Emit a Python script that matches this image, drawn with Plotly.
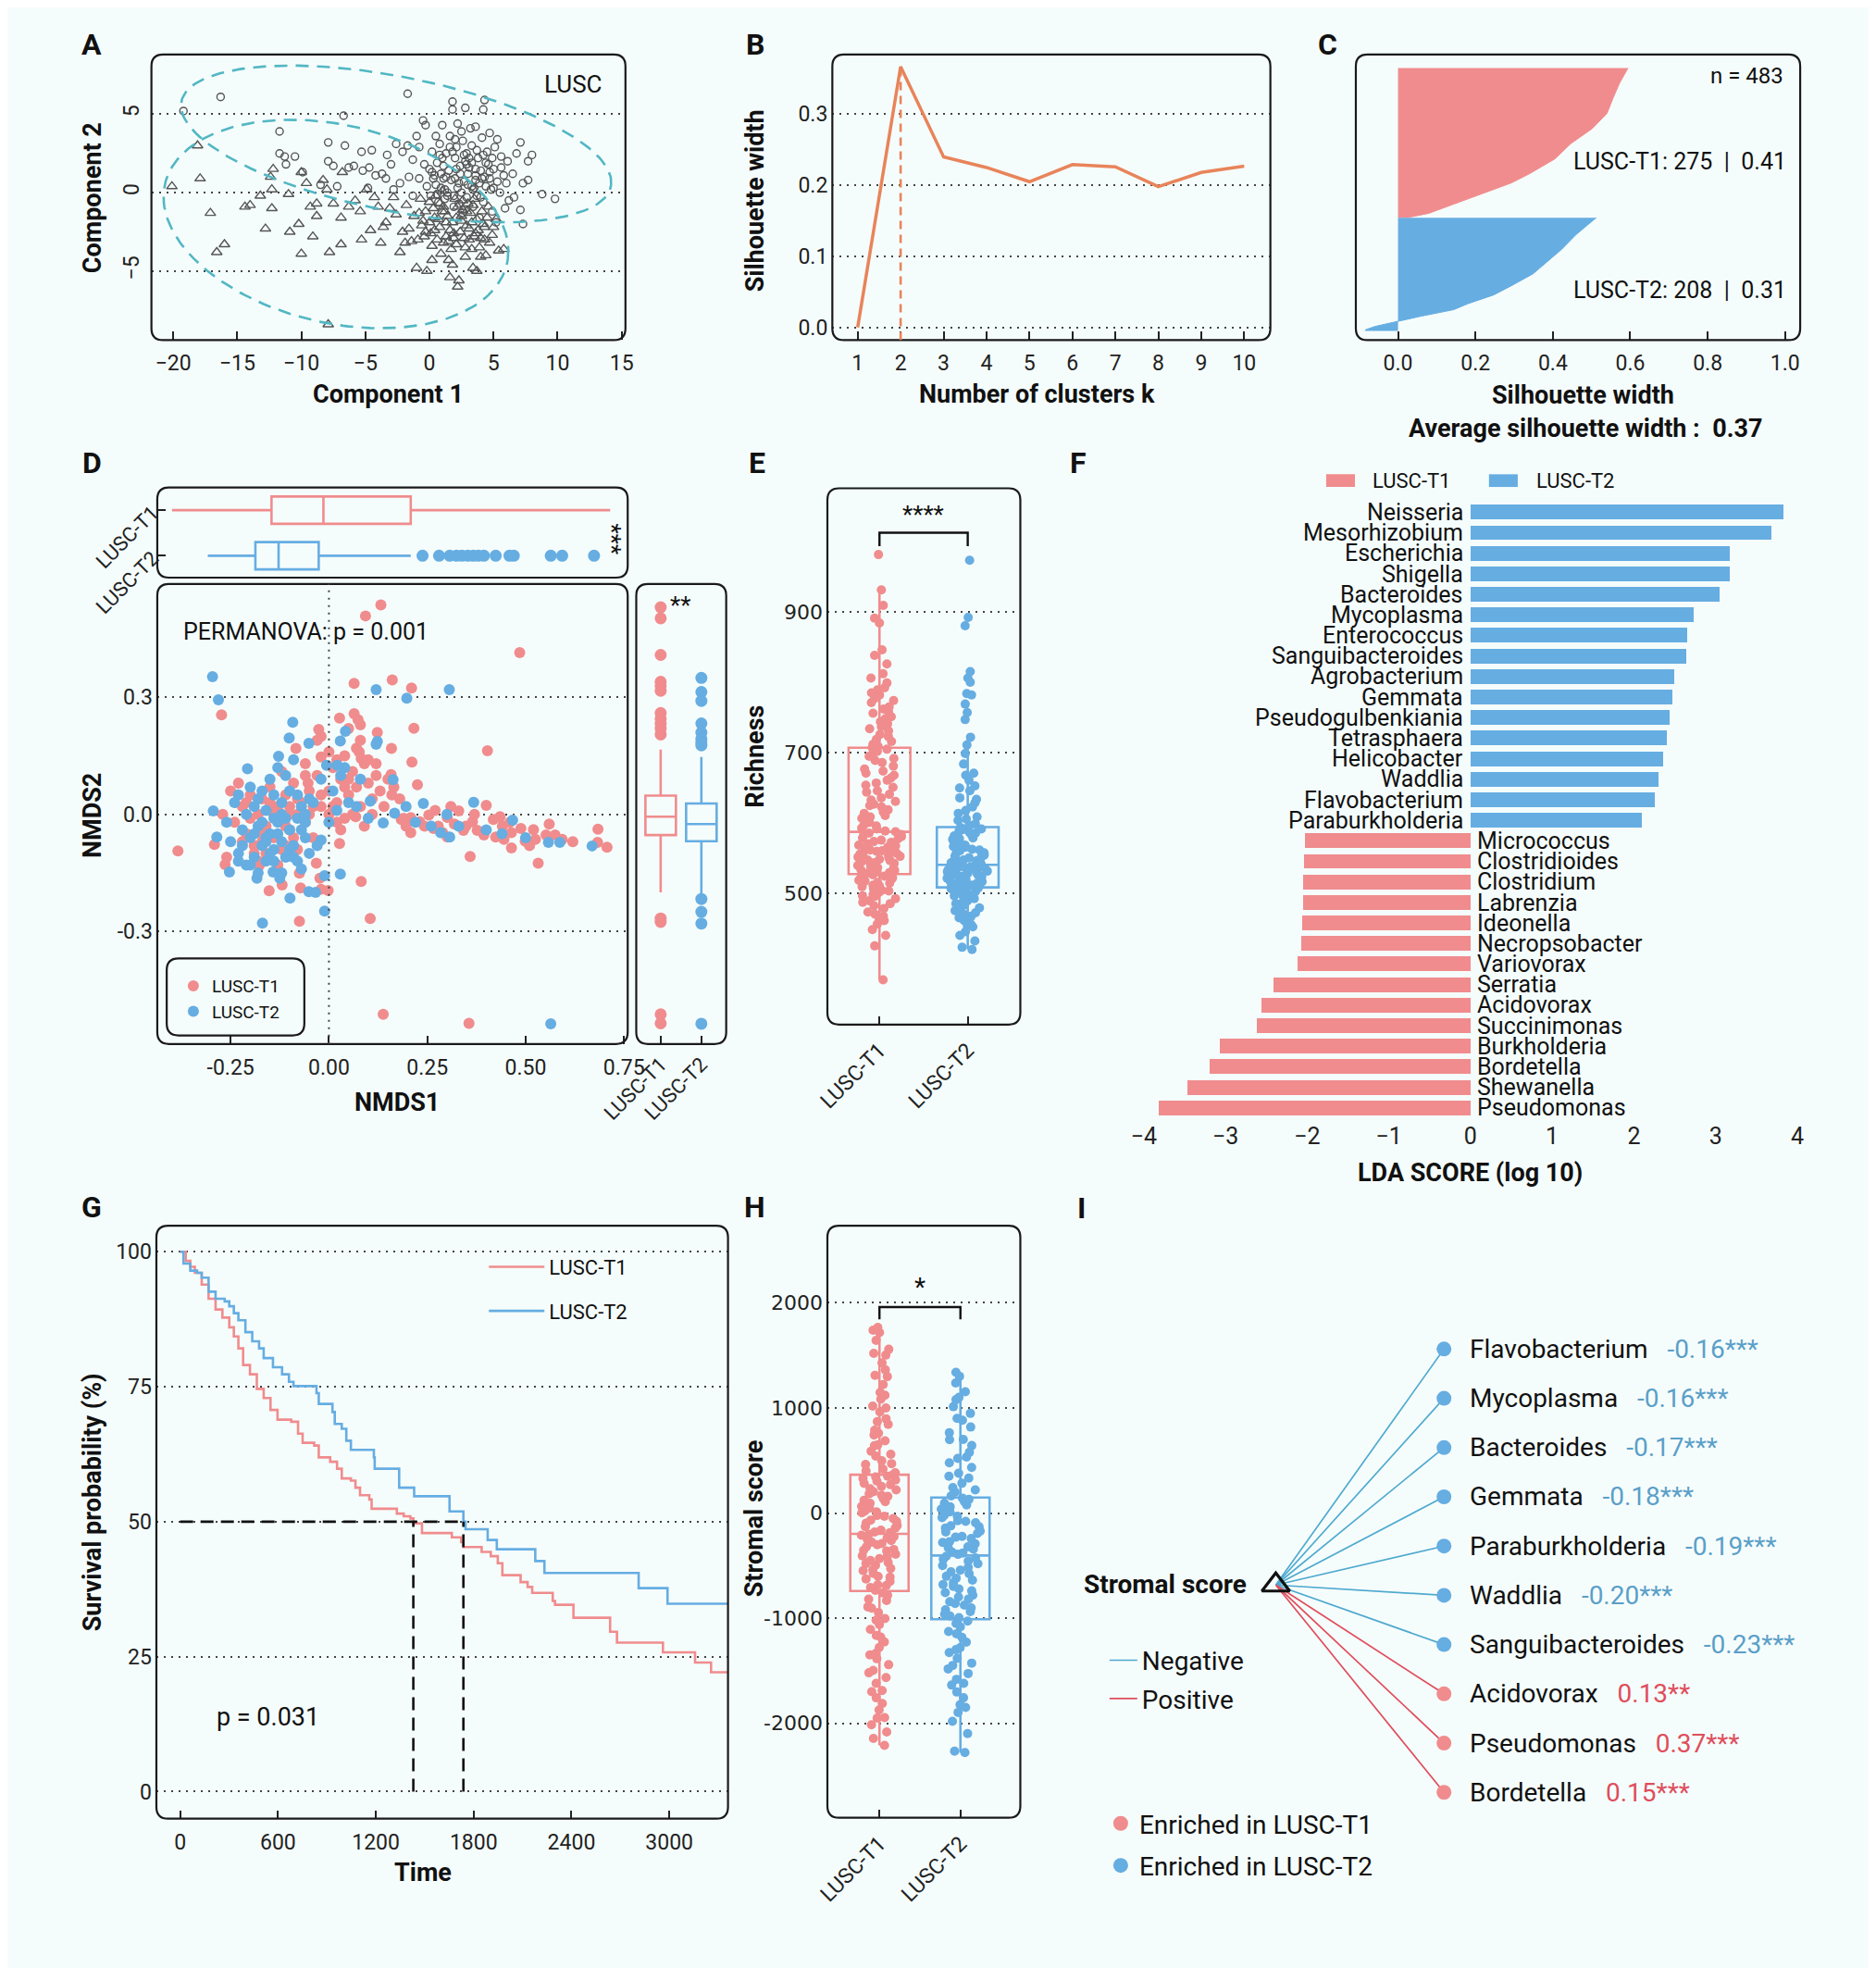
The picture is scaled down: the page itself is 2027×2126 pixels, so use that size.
import numpy as np
import plotly.graph_objects as go

W, H = 2027, 2126
PINK = '#F08C8D'
BLUE = '#66ADE2'
BG = '#F5FDFC'
FONT = 'Roboto'
GRID = dict(showgrid=True, gridcolor='#444', gridwidth=2, griddash='2px,6px')
TICKS = dict(ticks='inside', ticklen=9, tickwidth=2, tickcolor='#222', ticklabelstandoff=9)

# ---------------- data ----------------
# A: clusplot components (circles = cluster 1, triangles = cluster 2)
a1_x = [-19.2, -16.3, -6.7, -11.7, -7.9, -11.7, -11.3, -10.5, -11.2, -7.9,
        -7.5, -6.6, -5.3, -4.5, -6.3, -5.9, -5.2, -4.7, -4.2, -3.4,
        -3.7, -2.6, -1.7, -1.7, -2.1, -1.3, -0.5, -0.3, 0.5, 1.0,
        1.8, 1.8, 2.8, 4.3, 4.2, 2.5, 3.6, 4.7, 7.1, 8.0,
        7.7, 7.7, 7.3, 8.8, 9.8, 7.1, 7.3, -8.5, -7.2, -4.8,
        -3.0, -2.3, -1.6, -0.8, 0.2, 0.8, 1.6, 2.1, 2.9, 3.3,
        3.8, 4.5, 5.1, 5.6, 6.1, 6.5, 6.0, 5.5, 6.2, 5.9,
        4.9, 4.2, 3.6, 3.1, 2.4, 1.7, 1.1, 0.4, -0.2, -0.8,
        -1.3, 0.7, 1.4, 2.2, 2.9, 3.4, 4.4, 5.0, 4.0, 3.0,
        2.0, 1.2, 0.1, 1.9, 2.6, 3.9, 5.2, 6.6, 5.3, 4.1,
        3.2, 2.2, 1.3, 0.9, 2.5, 3.7, 4.7, 5.8, 6.8, -0.4,
        -1.0, -3.3, -9.9, -2.8, 0.3, 0.9, 1.5, 2.0, 2.7, 3.3,
        3.9, 4.6, 0.6, 1.2, 1.8, 2.4, 3.0, 3.6, 4.2, 4.8,
        1.0, 2.3, 3.5, 0.0, 0.5, 1.3, 2.1, 2.8, 3.4, 4.1,
        4.7, 5.3, 0.2, 1.6, 2.6, 3.7, 4.4, 5.6, 1.9, 3.1,
        0.8, 2.3, 4.0, 3.6, 1.4, 2.9, 4.9, 0.6, 2.0, 3.3,
        5.0, 1.1, 2.7, 4.3]
a1_y = [5.2, 6.1, 4.9, 3.9, 3.2, 2.5, 2.3, 2.3, 1.8, 2.0,
        1.7, 3.0, 2.6, 2.7, 1.6, 1.7, 1.4, 1.6, 1.1, 0.9,
        1.2, 3.1, 6.3, 3.0, 2.6, 2.1, 4.6, 4.3, 3.6, 4.3,
        5.8, 5.3, 5.4, 5.9, 5.3, 3.9, 4.2, 3.8, 3.2, 2.4,
        2.0, 0.8, 0.6, -0.1, -0.4, -1.1, -2.0, 0.5, 0.4, 0.3,
        1.8, 0.6, 1.0, 2.9, 2.6, 3.1, 3.6, 2.9, 2.5, 3.0,
        2.2, 2.6, 2.9, 2.3, 2.0, 1.2, 0.6, 0.0, -0.5, -1.0,
        -1.2, -0.6, 0.8, 1.6, 1.2, 0.8, 1.7, 1.1, 0.4, 0.9,
        -0.2, -0.6, -0.2, 0.3, -0.3, -0.9, 0.4, 1.5, 1.4, 0.5,
        2.2, 0.2, -0.2, -0.9, -1.3, -1.6, -1.9, -0.3, 3.4, 3.5,
        4.1, 4.4, 2.5, 1.2, 0.0, -0.2, 0.9, 1.1, 2.5, 1.8,
        3.6, 2.4, 1.3, 0.2, 0.9, 0.3, 1.4, 0.9, 0.7, 1.9,
        0.6, 1.8, 1.9, -0.4, 2.6, 1.7, 1.2, 1.5, 2.4, 0.2,
        2.2, -0.7, 0.3, 1.5, 0.5, 1.0, 1.5, 2.0, 0.2, 0.9,
        1.3, 0.7, 1.3, 2.9, 3.3, 2.7, 1.9, 1.6, -0.2, 2.2,
        2.4, 0.6, -0.3, 1.1, 0.0, 1.8, 2.2, -0.1, 3.4, 0.4,
        0.3, 0.9, 2.4, 1.0]
a2_x = [-20.1, -18.1, -17.9, -17.1, -16.6, -16.0, -14.4, -14.0, -13.2, -12.4,
        -12.3, -12.3, -12.8, -12.2, -11.0, -10.9, -10.2, -10.0, -10.0, -9.6,
        -9.3, -9.1, -8.8, -8.3, -8.0, -7.8, -7.5, -6.9, -6.9, -6.8,
        -6.3, -5.8, -5.4, -5.3, -4.6, -4.3, -3.8, -3.6, -3.4, -3.1,
        -2.6, -2.8, -2.1, -1.9, -1.6, -1.2, -1.0, -0.9, -0.6, -0.3,
        -0.2, 0.2, 0.4, 0.7, 0.9, 1.1, 1.3, 1.5, 1.6, 1.8,
        2.1, 2.2, 2.3, 2.4, 2.6, 2.8, 3.1, 3.3, 3.4, 3.6,
        3.7, 3.9, 4.1, 4.3, 4.4, 4.7, 5.2, 5.4, 5.8, 0.0,
        -0.7, 1.0, 2.0, 3.0, -1.8, -4.9, -8.8, -7.9, -2.3, -4.0,
        1.2, 0.5, -0.4, 2.7, 4.0, 0.3, 0.8, 1.4, 1.9, 2.5,
        3.2, 3.8, 4.5, -0.5, 1.7, 2.9, 4.9, 0.1, 1.1, 3.5,
        0.4, 1.0, 1.6, 2.2, 2.8, 3.4, 4.0, 4.6, -0.3, 0.6,
        1.3, 1.9, 2.5, 3.1, 3.7, 4.3, 0.0, 0.8, 1.5, 2.1,
        2.9, 3.5, 4.2, -0.8, 0.2, 1.8, 2.6, 3.3, 5.0, -1.4]
a2_y = [0.4, 3.0, 0.9, -1.3, -3.8, -3.3, -0.9, -0.8, -0.2, 1.0,
        0.2, -1.0, -2.3, 1.5, -0.1, -2.5, -2.0, -3.9, 1.3, 0.6,
        -0.9, -2.8, -1.5, 0.8, 0.2, -3.8, -0.7, -3.3, -1.6, 1.3,
        -0.9, -0.5, -1.2, -3.0, -2.4, -0.3, -3.2, -2.2, -1.9, -1.0,
        -1.4, -0.3, -2.5, -3.2, -2.3, -1.5, -4.8, -3.0, -2.1, -1.2,
        -5.0, -3.4, -2.4, -1.7, -3.9, -0.9, -2.8, -4.3, -5.4, -1.9,
        -3.3, -6.0, -5.6, -2.5, -1.1, -4.1, -3.0, -1.9, -4.8, -2.6,
        -5.0, -3.5, -1.2, -2.2, -4.0, -3.2, -1.7, -3.7, -3.6, -0.6,
        -0.4, 0.1, -0.4, -0.7, -0.8, 0.2, -0.7, -8.4, -3.8, -0.9,
        -1.2, -0.2, -2.8, -2.9, -4.1, -1.0, -2.2, -1.5, -2.9, -1.8,
        -1.3, -2.4, -1.6, -1.8, -3.6, -2.1, -2.7, -2.6, -3.2, -0.4,
        -1.6, -1.2, -2.4, -0.9, -3.5, -0.8, -2.9, -0.9, -2.5, -3.0,
        -1.9, -2.6, -1.5, -2.3, -1.7, -3.0, -1.9, -0.7, -3.1, -1.6,
        -1.2, -2.8, -2.0, -1.3, -4.3, -4.6, -0.5, -3.6, -2.2, -3.1]
# cluster ellipses: centre x, centre y, semi-major, semi-minor, angle (deg)
ell_cx = [-2.6, -7.3]
ell_cy = [3.1, -2.0]
ell_a = [16.98, 13.6]
ell_b = [4.31, 6.35]
ell_ang = [-8.85, -9.4]

# B: average silhouette width by k
b_k = [1, 2, 3, 4, 5, 6, 7, 8, 9, 10]
b_sil = [0.0, 0.367, 0.240, 0.225, 0.205, 0.229, 0.226, 0.198, 0.218, 0.227]

# C: silhouette profile (rank within cluster, silhouette width)
c1_rank = [0, 28, 56, 83, 111, 139, 167, 194, 211, 233, 250, 267, 275]
c1_sil = [0.594, 0.572, 0.555, 0.54, 0.502, 0.446, 0.405, 0.34, 0.293, 0.209, 0.144, 0.079, 0.023]
c2_rank = [0, 14, 31, 58, 86, 103, 125, 142, 158, 169, 181, 189, 194, 200, 206, 208]
c2_sil = [0.512, 0.488, 0.46, 0.423, 0.377, 0.349, 0.293, 0.247, 0.181, 0.144, 0.06, 0.005,
          -0.023, -0.06, -0.084, -0.084]
c_n1, c_n2 = 275, 208

# D: NMDS coordinates
d1_x = [0.132, 0.093, 0.485, -0.273, 0.064, 0.161, 0.21, 0.216, 0.027, 0.064,
        0.074, 0.123, -0.026, -0.084, 0.159, 0.403, -0.02, 0.077, 0.082, 0.211,
        0.158, 0.225, 0.165, 0.068, -0.053, 0.359, 0.532, 0.56, 0.684, 0.707,
        0.683, -0.384, -0.291, -0.264, -0.152, -0.119, -0.072, -0.075, -0.032, -0.023,
        -0.02, -0.002, 0.027, 0.082, 0.105, -0.075, 0.138, 0.356, -0.177,
        0.184, 0.208, 0.231, 0.254, 0.278, 0.301, 0.319, 0.33, 0.342, 0.365,
        0.4, 0.418, 0.435, 0.441, 0.464, 0.488, 0.499, 0.52, 0.525, 0.552,
        0.575, 0.593, 0.424, 0.394, 0.377, 0.348, 0.289, 0.266, 0.243, 0.208,
        0.196, 0.445, 0.464, 0.301, 0.31, 0.37, 0.27, 0.46, 0.51, 0.62,
        -0.24, -0.22, -0.21, -0.2, -0.19, -0.18, -0.17, -0.16, -0.15, -0.14,
        -0.13, -0.12, -0.11, -0.1, -0.09, -0.08, -0.07, -0.06, -0.05, -0.04,
        -0.03, -0.02, 0.0, 0.01, 0.02, 0.03, 0.04, 0.05, 0.06, 0.07,
        0.08, 0.09, 0.1, 0.11, 0.12, 0.13, 0.14, 0.16, -0.18, -0.16,
        -0.13, -0.11, -0.23, -0.25, -0.2, -0.12, -0.06, -0.03, -0.02, 0.02,
        0.05, 0.07, 0.08, 0.1, 0.02, 0.06, 0.09, 0.11, -0.26, -0.27,
        -0.15, -0.17, -0.08, -0.1, -0.04, 0.0, 0.04, 0.12, 0.15, 0.18,
        0.19, -0.21, -0.17, -0.14, -0.11, -0.08, -0.05, -0.02, 0.01, 0.04,
        -0.19, -0.15, -0.12, -0.09, -0.06, 0.03, 0.08, -0.22, -0.1, 0.0,
        0.05]
d1_y = [0.537, 0.509, 0.415, 0.255, 0.336, 0.345, 0.324, 0.221, 0.247, 0.258,
        0.243, 0.21, 0.218, 0.169, 0.169, 0.163, 0.147, 0.16, 0.143, 0.134,
        0.102, 0.076, 0.07, -0.006, 0.08, -0.108, -0.125, -0.025, -0.038, -0.084,
        -0.072, -0.094, -0.077, -0.129, -0.196, -0.181, -0.189, -0.151, -0.125, -0.164,
        -0.192, -0.195, -0.075, -0.172, -0.267, -0.274, -0.513, -0.536, -0.131,
        -0.013, -0.008, -0.019, -0.002, -0.03, -0.008, -0.025, 0.009, -0.041, -0.019,
        0.023, -0.013, -0.006, -0.03, -0.047, -0.036, -0.069, -0.039, -0.064, -0.053,
        -0.053, -0.064, -0.058, -0.053, -0.041, -0.03, -0.047, -0.036, -0.03, -0.047,
        -0.03, -0.064, -0.086, -0.058, 0.02, 0.0, 0.01, -0.02, -0.08, -0.07,
        -0.02, 0.02, -0.05, 0.05, -0.08, 0.0, 0.04, -0.03, 0.07, -0.06,
        0.02, -0.01, 0.05, -0.04, 0.08, -0.09, 0.03, -0.02, 0.06, -0.06,
        0.1, 0.02, 0.06, 0.12, 0.03, 0.09, 0.15, 0.05, 0.11, 0.07,
        0.02, 0.13, 0.08, 0.04, 0.1, 0.06, 0.02, 0.05, -0.12, -0.1,
        -0.13, -0.08, 0.08, 0.06, -0.01, 0.11, 0.13, 0.19, 0.2, 0.14,
        0.22, 0.17, 0.23, 0.14, -0.02, 0.0, -0.03, 0.0, -0.11, 0.0,
        0.02, -0.05, 0.0, 0.02, 0.02, 0.0, -0.01, 0.13, 0.09, 0.04,
        -0.01, 0.03, -0.07, 0.0, -0.03, 0.04, 0.0, 0.05, 0.02, 0.07,
        -0.1, 0.03, -0.09, -0.06, 0.1, -0.04, 0.19, -0.07, 0.0, 0.16,
        0.09]
d2_x = [-0.296, -0.281, 0.12, 0.198, 0.306, -0.092, -0.101, -0.051, 0.042, 0.029,
        0.123, -0.128, -0.207, -0.006, 0.021, 0.163, 0.105, 0.368, 0.24, 0.196,
        0.467, 0.138, 0.167, 0.307, 0.284, 0.558, 0.587, 0.669, -0.02, -0.294,
        -0.285, -0.253, -0.23, -0.183, -0.169, -0.142, -0.125, -0.099, -0.051, -0.034,
        -0.011, 0.029, -0.011, 0.564,
        -0.25, -0.24, -0.23, -0.22, -0.21, -0.2, -0.2, -0.19, -0.18, -0.18,
        -0.17, -0.16, -0.16, -0.15, -0.14, -0.14, -0.13, -0.12, -0.12, -0.11,
        -0.1, -0.1, -0.09, -0.08, -0.08, -0.07, -0.06, -0.05, -0.15, -0.13,
        -0.11, -0.09, -0.12, -0.07, -0.04, -0.02, 0.01, 0.03, 0.05, 0.08,
        0.1, -0.21, -0.26, -0.17, -0.19, 0.0, 0.12, 0.02, -0.23, -0.16,
        -0.14, -0.06, 0.22, 0.26, 0.33, 0.4, 0.44, 0.5, 0.3,
        -0.22, -0.19, -0.17, -0.15, -0.13, -0.11, -0.09, -0.07, -0.05, -0.03,
        -0.2, -0.16, -0.12, -0.1, -0.08, -0.18, -0.14, -0.06, 0.04, 0.07]
d2_y = [0.353, 0.294, 0.32, 0.298, 0.32, 0.236, 0.196, 0.182, 0.213, 0.188,
        0.187, 0.149, 0.117, 0.126, 0.126, 0.089, 0.034, 0.031, 0.028, 0.02,
        -0.015, -0.022, 0.003, -0.058, -0.047, -0.072, -0.072, -0.081, -0.066, 0.009,
        -0.058, -0.148, -0.12, -0.164, -0.279, -0.148, -0.164, -0.215, -0.198, -0.2,
        -0.157, -0.153, -0.248, -0.537,
        -0.07, 0.03, -0.1, -0.04, 0.0, -0.06, 0.07, -0.11, -0.03, 0.04,
        -0.08, 0.01, -0.12, -0.05, 0.05, -0.09, -0.02, -0.07, 0.03, -0.11,
        -0.04, 0.06, -0.08, -0.01, -0.12, 0.02, -0.06, -0.1, 0.09, 0.12,
        0.1, 0.14, -0.15, -0.14, 0.03, 0.09, 0.06, 0.1, 0.03, 0.09,
        -0.01, -0.13, -0.02, 0.06, 0.02, -0.02, 0.18, 0.01, 0.05, -0.06,
        -0.01, 0.0, -0.02, -0.03, -0.03, -0.04, -0.05, -0.06, 0.0,
        -0.08, -0.05, -0.02, -0.1, -0.05, -0.01, -0.11, -0.04, 0.04, -0.08,
        -0.13, -0.07, 0.0, -0.09, 0.05, -0.15, -0.12, -0.02, 0.12, 0.02]
# marginal boxplots: [lowerfence, q1, median, q3, upperfence]
d_nmds1_t1 = [-0.399, -0.146, -0.014, 0.208, 0.715]
d_nmds1_t2 = [-0.308, -0.187, -0.128, -0.026, 0.208]
d_nmds1_out_t2 = [0.238, 0.28, 0.307, 0.324, 0.338, 0.353, 0.367, 0.38, 0.394,
                  0.424, 0.459, 0.47, 0.564, 0.593, 0.674]
d_nmds2_t1 = [-0.2, -0.053, -0.006, 0.048, 0.166]
d_nmds2_t2 = [-0.209, -0.069, -0.025, 0.028, 0.147]
d_nmds2_out_t1 = [0.531, 0.503, 0.409, 0.34, 0.33, 0.317, 0.26, 0.245, 0.232, 0.22,
                  0.205, -0.267, -0.276, -0.513, -0.536]
d_nmds2_out_t2 = [0.35, 0.314, 0.291, 0.233, 0.21, 0.193, 0.185, 0.177, -0.217,
                  -0.25, -0.28, -0.537]

# E: richness
e_box_t1 = [378, 527.8, 587.8, 707, 929.7]
e_box_t2 = [421.5, 509, 541, 594.6, 722]
e_t1 = [378, 426, 441, 449, 457, 462, 466, 471, 474, 479, 483, 486, 490, 493, 496, 499,
        502, 504, 507, 510, 512, 515, 516, 519, 521, 523, 525, 527,
        529, 530, 533, 534, 537, 538, 541, 543, 544, 547, 548, 551, 552, 554, 556, 558,
        560, 562, 564, 566, 568, 571, 573, 576, 578, 581, 583, 586,
        589, 593, 597, 601, 607, 611, 614, 619, 623, 627, 631, 636, 641, 644, 651, 654,
        661, 664, 671, 674, 681, 686, 689, 695, 699, 702, 705, 707,
        709, 716, 719, 726, 731, 734, 741, 744, 751, 756, 762, 765, 771, 777, 782, 789,
        792, 799, 806, 812, 826, 838, 846, 884, 891, 909, 931, 981,
        505, 511, 518, 522, 531, 536, 540, 546, 549, 553, 557, 561, 565, 569, 574, 579,
        584, 588, 592, 596, 603, 609, 616, 625, 633, 646, 657, 668, 677, 692, 712, 723,
        737, 748, 758, 774, 785, 468, 488, 497]
e_t2 = [421, 424, 433, 441, 446, 453, 457, 462, 468, 471, 476, 478, 484, 486, 490, 493,
        496, 497, 501, 503, 505, 508,
        510, 511, 513, 514, 516, 518, 519, 521, 523, 524, 526, 527, 529, 531, 532, 533,
        535, 536, 537, 538, 539, 540,
        542, 546, 548, 551, 553, 555, 558, 561, 563, 566, 569, 571, 574, 577, 579, 582,
        584, 587, 589, 591, 592, 594,
        599, 604, 609, 614, 623, 629, 636, 646, 653, 661, 671, 684, 699, 711, 722,
        747, 757, 769, 782, 784, 800, 806, 815, 880, 892, 973,
        480, 488, 494, 499, 504, 507, 512, 515, 517, 520, 522, 525, 528, 530, 534, 538,
        541, 544, 547, 552, 557, 562, 567, 573, 578, 586, 597, 606, 618, 634, 650, 668,
        455, 466, 473]

# F: LEfSe LDA scores
f_taxa = ['Neisseria', 'Mesorhizobium', 'Escherichia', 'Shigella', 'Bacteroides',
          'Mycoplasma', 'Enterococcus', 'Sanguibacteroides', 'Agrobacterium', 'Gemmata',
          'Pseudogulbenkiania', 'Tetrasphaera', 'Helicobacter', 'Waddlia', 'Flavobacterium',
          'Paraburkholderia', 'Micrococcus', 'Clostridioides', 'Clostridium', 'Labrenzia',
          'Ideonella', 'Necropsobacter', 'Variovorax', 'Serratia', 'Acidovorax',
          'Succinimonas', 'Burkholderia', 'Bordetella', 'Shewanella', 'Pseudomonas']
f_lda = [3.83, 3.69, 3.18, 3.18, 3.05, 2.74, 2.66, 2.65, 2.50, 2.47,
         2.44, 2.41, 2.36, 2.31, 2.26, 2.10, -2.02, -2.03, -2.05, -2.05,
         -2.06, -2.07, -2.11, -2.41, -2.56, -2.61, -3.07, -3.19, -3.46, -3.81]

# G: Kaplan-Meier steps
g1_t = [0, 34, 62, 90, 132, 174, 217, 259, 301, 329, 357, 386, 428, 470, 512, 554, 597,
        681, 723, 751, 822, 850, 920, 962, 991, 1047, 1075, 1103, 1160, 1174, 1329, 1371,
        1412, 1430, 1483, 1666, 1723, 1737, 1849, 1905, 1948, 1976, 2088, 2131, 2159, 2285,
        2299, 2412, 2637, 2679, 2961, 3158, 3256, 3360]
g1_s = [100, 98.3, 97.2, 96.1, 93.9, 91.3, 89.3, 87.8, 86.0, 84.3, 82.1, 79.0, 77.3, 74.6,
        72.9, 70.7, 68.9, 68.5, 66.3, 64.6, 64.1, 61.9, 61.1, 59.8, 58.0, 57.6, 56.3, 54.9,
        54.1, 52.4, 51.5, 51.0, 50.6, 49.7, 47.9, 47.1, 46.2, 45.3, 44.4, 43.6, 42.3, 40.1,
        38.8, 37.9, 36.8, 35.3, 34.6, 32.2, 29.6, 27.6, 25.8, 23.9, 22.1, 22.1]
g2_t = [0, 20, 62, 104, 132, 174, 217, 273, 301, 329, 357, 400, 442, 484, 512, 569, 625,
        667, 695, 836, 850, 934, 948, 991, 1019, 1047, 1188, 1193, 1343, 1435, 1652, 1737,
        1750, 1886, 1942, 2178, 2234, 2812, 2989, 3360]
g2_s = [100, 97.8, 96.5, 96.1, 95.2, 92.6, 91.3, 90.8, 89.9, 88.6, 87.3, 85.1, 83.4, 82.1,
        80.3, 78.6, 77.3, 75.9, 75.1, 73.8, 71.8, 70.3, 68.1, 67.2, 65.0, 63.3, 61.9, 59.8,
        56.3, 54.7, 51.9, 50.0, 48.6, 46.6, 44.9, 42.7, 40.5, 37.7, 34.8, 34.8]
g_median = [1430, 1737]

# H: stromal score
h_box_t1 = [-2211, -742, -198, 364, 1766]
h_box_t2 = [-2279, -1011, -404, 148, 1339]
h_t1 = [-2211, -2145, -2083, -2015, -1947, -1874, -1812, -1758, -1688, -1621, -1566, -1497,
        -1443, -1386, -1334, -1279, -1226, -1165, -1108, -1062, -1004, -947, -893, -832, -781,
        -736, -708, -683, -652, -627, -603, -574, -548, -527, -498, -481, -452, -433, -408,
        -392, -362, -347, -321, -302, -277, -262, -238, -224, -211, -202,
        -188, -163, -142, -118, -96, -68, -52, -23, 3, 18, 47, 63, 92, 108, 137, 158, 183,
        203, 232, 253, 282, 304, 327, 343, 361,
        383, 418, 463, 497, 542, 588, 641, 687, 743, 788, 843, 897, 962, 1018, 1083, 1147,
        1223, 1298, 1362, 1428, 1503, 1558, 1643, 1718, 1766,
        -1950, -1700, -1520, -1350, -1180, -1020, -905, -820, -760, -690, -610, -540, -470,
        -415, -355, -290, -250, -180, -130, -80, -30, 10, 55, 120, 170, 220, 270, 315, 350,
        400, 470, 560, 650, 760, 870, 1000, 1120, 1310, 1520, 1740]
h_t2 = [-2279, -2265, -2099, -1982, -1897, -1823, -1758, -1703, -1637, -1582, -1527, -1483,
        -1428, -1383, -1327, -1282, -1228, -1183, -1127, -1083, -1028,
        -996, -963, -937, -902, -877, -843, -818, -782, -757, -722, -697, -663, -638, -602,
        -577, -543, -518, -482, -457, -428, -412,
        -393, -372, -343, -322, -293, -272, -243, -222, -193, -172, -143, -122, -93, -72,
        -43, -22, 12, 38, 77, 108, 142,
        163, 198, 243, 283, 332, 378, 433, 478, 533, 578, 642, 698, 763, 818, 883, 948,
        1012, 1078, 1153, 1238, 1339,
        -1850, -1620, -1450, -1300, -1150, -1050, -980, -920, -860, -800, -740, -680, -620,
        -560, -500, -440, -380, -330, -280, -230, -180, -130, -80, -30, 20, 60, 95, 130,
        220, 350, 520, 700, 900, 1100, 1300]

# I: correlation with stromal score
i_taxa = ['Flavobacterium', 'Mycoplasma', 'Bacteroides', 'Gemmata', 'Paraburkholderia',
          'Waddlia', 'Sanguibacteroides', 'Acidovorax', 'Pseudomonas', 'Bordetella']
i_rho = [-0.16, -0.16, -0.17, -0.18, -0.19, -0.20, -0.23, 0.13, 0.37, 0.15]
i_sig = ['***', '***', '***', '***', '***', '***', '***', '**', '***', '***']
i_group = ['T2', 'T2', 'T2', 'T2', 'T2', 'T2', 'T2', 'T1', 'T1', 'T1']


# ---------------- helpers ----------------
def dx(l, r):
    return [l / W, r / W]


def dy(t, b):
    return [1 - b / H, 1 - t / H]


def rbox(l, t, r, b, rad=13):
    x0, x1, y0, y1 = l / W, r / W, 1 - b / H, 1 - t / H
    rx, ry = rad / W, rad / H
    p = (f"M{x0+rx},{y1} L{x1-rx},{y1} Q{x1},{y1} {x1},{y1-ry} L{x1},{y0+ry} "
         f"Q{x1},{y0} {x1-rx},{y0} L{x0+rx},{y0} Q{x0},{y0} {x0},{y0+ry} "
         f"L{x0},{y1-ry} Q{x0},{y1} {x0+rx},{y1} Z")
    return dict(type='path', xref='paper', yref='paper', path=p, layer='above',
                fillcolor='rgba(0,0,0,0)', line=dict(color='#1a1a1a', width=2.2))


ann = []


def text(x, y, s, size=24, bold=False, angle=0, anchor='center', color='#111', family=FONT):
    if bold:
        s = f'<b>{s}</b>'
    ann.append(dict(x=x / W, y=1 - y / H, xref='paper', yref='paper', text=s, showarrow=False,
                    textangle=angle, xanchor=anchor, yanchor='middle',
                    font=dict(family=family, size=size, color=color)))


fig = go.Figure()

# ---------------- A ----------------
fig.add_trace(go.Scatter(x=a1_x, y=a1_y, mode='markers', xaxis='x', yaxis='y', showlegend=False,
                         marker=dict(symbol='circle-open', size=8, color='#555',
                                     line=dict(width=1.4, color='#555'))))
fig.add_trace(go.Scatter(x=a2_x, y=a2_y, mode='markers', xaxis='x', yaxis='y', showlegend=False,
                         marker=dict(symbol='triangle-up-open', size=10, color='#555',
                                     line=dict(width=1.4, color='#555'))))
tt = np.linspace(0, 2 * np.pi, 200)
for cx, cy, a, b, ang in zip(ell_cx, ell_cy, ell_a, ell_b, ell_ang):
    th = np.deg2rad(ang)
    ex = cx + a * np.cos(tt) * np.cos(th) - b * np.sin(tt) * np.sin(th)
    ey = cy + a * np.cos(tt) * np.sin(th) + b * np.sin(tt) * np.cos(th)
    fig.add_trace(go.Scatter(x=ex, y=ey, mode='lines', xaxis='x', yaxis='y', showlegend=False,
                             line=dict(color='#52B7C3', width=2.6, dash='14px,9px')))

# ---------------- B ----------------
fig.add_trace(go.Scatter(x=b_k, y=b_sil, mode='lines', xaxis='x2', yaxis='y2', showlegend=False,
                         line=dict(color='#E8845A', width=3.5)))

# ---------------- C ----------------
fig.add_trace(go.Scatter(x=c1_sil, y=c1_rank, mode='lines', fill='tozerox', xaxis='x3',
                         yaxis='y3', showlegend=False, fillcolor=PINK,
                         line=dict(color=PINK, width=1)))
fig.add_trace(go.Scatter(x=c2_sil, y=[c_n1 + r for r in c2_rank], mode='lines', fill='tozerox',
                         xaxis='x3', yaxis='y3', showlegend=False, fillcolor=BLUE,
                         line=dict(color=BLUE, width=1)))


# ---------------- D ----------------
def pbox(stats, pos, color, width, ax, ay, horiz=False):
    lo, q1, med, q3, hi = stats
    kw = dict(q1=[q1], median=[med], q3=[q3], lowerfence=[lo], upperfence=[hi],
              width=width, whiskerwidth=0, boxpoints=False, fillcolor='rgba(0,0,0,0)',
              line=dict(color=color, width=2.6), xaxis=ax, yaxis=ay, showlegend=False,
              hoverinfo='skip')
    if horiz:
        return go.Box(y=[pos], orientation='h', **kw)
    return go.Box(x=[pos], **kw)


fig.add_trace(go.Scatter(x=d1_x, y=d1_y, mode='markers', xaxis='x5', yaxis='y5', name='LUSC-T1',
                         legend='legend', marker=dict(color=PINK, size=12)))
fig.add_trace(go.Scatter(x=d2_x, y=d2_y, mode='markers', xaxis='x5', yaxis='y5', name='LUSC-T2',
                         legend='legend', marker=dict(color=BLUE, size=12)))
fig.add_trace(pbox(d_nmds1_t1, 1, PINK, 0.6, 'x4', 'y4', horiz=True))
fig.add_trace(pbox(d_nmds1_t2, 0, BLUE, 0.6, 'x4', 'y4', horiz=True))
fig.add_trace(go.Scatter(x=d_nmds1_out_t2, y=[0] * len(d_nmds1_out_t2), mode='markers',
                         xaxis='x4', yaxis='y4', showlegend=False,
                         marker=dict(color=BLUE, size=13)))
fig.add_trace(pbox(d_nmds2_t1, 0, PINK, 0.75, 'x6', 'y6'))
fig.add_trace(pbox(d_nmds2_t2, 1, BLUE, 0.75, 'x6', 'y6'))
fig.add_trace(go.Scatter(x=[0] * len(d_nmds2_out_t1), y=d_nmds2_out_t1, mode='markers',
                         xaxis='x6', yaxis='y6', showlegend=False,
                         marker=dict(color=PINK, size=13)))
fig.add_trace(go.Scatter(x=[1] * len(d_nmds2_out_t2), y=d_nmds2_out_t2, mode='markers',
                         xaxis='x6', yaxis='y6', showlegend=False,
                         marker=dict(color=BLUE, size=13)))


# ---------------- E & H ----------------
def jitter_pts(vals, pos, color, ax, ay):
    return go.Box(y=vals, x0=pos, boxpoints='all', jitter=1, pointpos=0, width=0.5,
                  fillcolor='rgba(0,0,0,0)', line=dict(width=0, color='rgba(0,0,0,0)'),
                  marker=dict(color=color, size=10, opacity=1), xaxis=ax, yaxis=ay,
                  showlegend=False, hoverinfo='skip')


fig.add_trace(pbox(e_box_t1, 0, PINK, 0.7, 'x7', 'y7'))
fig.add_trace(pbox(e_box_t2, 1, BLUE, 0.7, 'x7', 'y7'))
fig.add_trace(jitter_pts(e_t1, 0, PINK, 'x7', 'y7'))
fig.add_trace(jitter_pts(e_t2, 1, BLUE, 'x7', 'y7'))
fig.add_trace(go.Scatter(x=[0, 0, 1, 1], y=[993, 1012, 1012, 993], mode='lines', xaxis='x7',
                         yaxis='y7', showlegend=False, line=dict(color='#111', width=2.4)))

fig.add_trace(pbox(h_box_t1, 0, PINK, 0.72, 'x10', 'y10'))
fig.add_trace(pbox(h_box_t2, 1, BLUE, 0.72, 'x10', 'y10'))
fig.add_trace(jitter_pts(h_t1, 0, PINK, 'x10', 'y10'))
fig.add_trace(jitter_pts(h_t2, 1, BLUE, 'x10', 'y10'))
fig.add_trace(go.Scatter(x=[0, 0, 1, 1], y=[1843, 1960, 1960, 1843], mode='lines', xaxis='x10',
                         yaxis='y10', showlegend=False, line=dict(color='#111', width=2.4)))

# ---------------- F ----------------
f_idx = list(range(len(f_taxa)))
fig.add_trace(go.Bar(x=f_lda, y=f_idx, orientation='h', width=0.72, xaxis='x8', yaxis='y8',
                     marker=dict(color=[BLUE if v > 0 else PINK for v in f_lda], line=dict(width=0)),
                     showlegend=False, hoverinfo='skip'))
for i, (nm, v) in enumerate(zip(f_taxa, f_lda)):
    ann.append(dict(x=0, y=i, xref='x8', yref='y8', text=nm, showarrow=False,
                    xanchor='right' if v > 0 else 'left', xshift=-6 if v > 0 else 5,
                    yanchor='middle', font=dict(family=FONT, size=25, color='#111')))

# ---------------- G ----------------
fig.add_trace(go.Scatter(x=g1_t, y=g1_s, mode='lines', line_shape='hv', xaxis='x9', yaxis='y9',
                         name='LUSC-T1', legend='legend2', legendgroup='g1',
                         line=dict(color=PINK, width=2.6)))
fig.add_trace(go.Scatter(x=g2_t, y=g2_s, mode='lines', line_shape='hv', xaxis='x9', yaxis='y9',
                         name='LUSC-T2', legend='legend2', legendgroup='g2',
                         line=dict(color=BLUE, width=2.6)))

# ---------------- I ----------------
tri_y = 4.79
neg_x, neg_y, pos_x, pos_y = [], [], [], []
for i, r in enumerate(i_rho):
    if r < 0:
        neg_x += [0, 1, None]
        neg_y += [tri_y, i, None]
    else:
        pos_x += [0, 1, None]
        pos_y += [tri_y, i, None]
fig.add_trace(go.Scatter(x=neg_x, y=neg_y, mode='lines', xaxis='x11', yaxis='y11',
                         name='Negative', legend='legend3', legendgroup='n',
                         line=dict(color='#4FA9CF', width=1.7), cliponaxis=False))
fig.add_trace(go.Scatter(x=pos_x, y=pos_y, mode='lines', xaxis='x11', yaxis='y11',
                         name='Positive', legend='legend3', legendgroup='p',
                         line=dict(color='#DF4E5C', width=1.7), cliponaxis=False))
for grp, col, nm in [('T1', PINK, 'Enriched in LUSC-T1'), ('T2', BLUE, 'Enriched in LUSC-T2')]:
    ids = [i for i, g in enumerate(i_group) if g == grp]
    fig.add_trace(go.Scatter(x=[1] * len(ids), y=ids, mode='markers', xaxis='x11', yaxis='y11',
                             name=nm, legend='legend4', legendgroup=grp, cliponaxis=False,
                             marker=dict(color=col, size=16)))
fig.add_trace(go.Scatter(x=[0], y=[tri_y], mode='markers', xaxis='x11', yaxis='y11',
                         showlegend=False, cliponaxis=False,
                         marker=dict(symbol='triangle-up-open', size=26, color='#111',
                                     line=dict(width=3.2, color='#111'))))
for i, (nm, r, s, g) in enumerate(zip(i_taxa, i_rho, i_sig, i_group)):
    vc = '#5B9FC8' if r < 0 else '#DF4E5C'
    ann.append(dict(x=1, y=i, xref='x11', yref='y11', showarrow=False, xanchor='left',
                    xshift=26, yanchor='middle', font=dict(family=FONT, size=28, color='#111'),
                    text=f"{nm}\u00a0\u00a0\u00a0<span style='color:{vc}'>{r:.2f}{s}</span>"))

# ---------------- texts ----------------
for lab, x, y in [('A', 54, 41), ('B', 791, 41), ('C', 1428, 41), ('D', 54, 502), ('E', 793, 502),
                  ('F', 1150, 502), ('G', 54, 1323), ('H', 791, 1323), ('I', 1154, 1324)]:
    text(x, y, lab, size=32, bold=True)

text(383, 427, 'Component 1', 27, True)
text(54, 210, 'Component 2', 27, True, -90)
text(589, 85, 'LUSC', 26)
text(1105, 427, 'Number of clusters k', 27, True)
text(791, 213, 'Silhouette width', 27, True, -90)
text(1712, 428, 'Silhouette width', 27, True)
text(1714, 465, 'Average silhouette width :\u00a0 0.37', 27, True)
text(1894, 76, 'n = 483', 24)
text(1940, 170, 'LUSC-T1: 275\u00a0 |\u00a0 0.41', 25, anchor='right')
text(1940, 312, 'LUSC-T2: 208\u00a0 |\u00a0 0.31', 25, anchor='right')
text(54, 891, 'NMDS2', 27, True, -90)
text(393, 1208, 'NMDS1', 27, True)
text(153, 689, 'PERMANOVA: p = 0.001', 25, anchor='left')
text(632, 587, '***', 26, angle=90)
text(708, 660, '**', 26)
text(791, 826, 'Richness', 27, True, -90)
text(1586, 1286, 'LDA SCORE (log 10)', 27, True)
text(54, 1649, 'Survival probability (%)', 27, True, -90)
text(422, 2058, 'Time', 27, True)
text(791, 1667, 'Stromal score', 27, True, -90)
text(1340, 1739, 'Stromal score', 28, True, anchor='right')
ann.append(dict(x=0.5, y=1038, xref='x7', yref='y7', text='****', showarrow=False,
                font=dict(family=FONT, size=26, color='#111')))
ann.append(dict(x=0.5, y=2148, xref='x10', yref='y10', text='*', showarrow=False,
                font=dict(family=FONT, size=28, color='#111')))
ann.append(dict(x=540, y=13.8, xref='x9', yref='y9', text='p = 0.031', showarrow=False,
                font=dict(family=FONT, size=27, color='#111')))
# F legend
text(1476, 522, 'LUSC-T1', 22, anchor='left')
text(1658, 522, 'LUSC-T2', 22, anchor='left')

shapes = [rbox(120, 52, 647, 367), rbox(877, 52, 1364, 367), rbox(1459, 52, 1953, 367),
          rbox(126.5, 529.5, 649.5, 629), rbox(126.5, 636, 649.5, 1143.5),
          rbox(659, 636, 759, 1143.5), rbox(871.5, 530.5, 1086, 1122),
          rbox(125.5, 1344, 761, 1998), rbox(871.5, 1344, 1086, 1997),
          rbox(137, 1049, 290, 1134)]
for x0, x1, col in [(1426, 1458, PINK), (1607, 1639, BLUE)]:
    shapes.append(dict(type='rect', xref='paper', yref='paper', x0=x0 / W, x1=x1 / W,
                       y0=1 - 529 / H, y1=1 - 515 / H, fillcolor=col, line=dict(width=0)))
shapes.append(dict(type='line', xref='x2', yref='y2', x0=2, x1=2, y0=-0.018, y1=b_sil[1],
                   line=dict(color='#E8845A', width=2.6, dash='9px,6px')))
shapes.append(dict(type='line', xref='x5', yref='y5 domain', x0=0, x1=0, y0=0, y1=1,
                   line=dict(color='#444', width=2, dash='2px,6px')))
shapes.append(dict(type='line', xref='x9', yref='y9', x0=0, x1=g_median[1], y0=50, y1=50,
                   line=dict(color='#111', width=2.6, dash='14px,8px')))
for m in g_median:
    shapes.append(dict(type='line', xref='x9', yref='y9', x0=m, x1=m, y0=0, y1=50,
                       line=dict(color='#111', width=2.6, dash='14px,8px')))

TF = dict(family=FONT, size=23, color='#222')
TFW = dict(family='DejaVu Sans', size=22, color='#222')
base = dict(showgrid=False, zeroline=False, showline=False, ticks='', tickfont=TF)


def axis(dom, rng, **kw):
    d = dict(base)
    d.update(domain=dom, range=rng)
    d.update(kw)
    return d


lay = {}
lay['xaxis'] = axis(dx(120, 647), [-21.7, 15.3], tickvals=[-20, -15, -10, -5, 0, 5, 10, 15],
                    ticktext=['\u221220', '\u221215', '\u221210', '\u22125', '0', '5', '10', '15'],
                    **TICKS)
lay['yaxis'] = axis(dy(52, 367), [-9.4, 8.8], tickvals=[-5, 0, 5], ticktext=['\u22125', '0', '5'],
                    tickangle=-90, ticklabelstandoff=8, **GRID)
lay['xaxis2'] = axis(dx(877, 1364), [0.41, 10.61], tickvals=b_k, **TICKS)
lay['yaxis2'] = axis(dy(52, 367), [-0.018, 0.384], tickvals=[0, 0.1, 0.2, 0.3],
                     ticktext=['0.0', '0.1', '0.2', '0.3'], ticklabelstandoff=4, **GRID)
lay['xaxis3'] = axis(dx(1459, 1953), [-0.109, 1.039], tickvals=[0, 0.2, 0.4, 0.6, 0.8, 1.0],
                     ticktext=['0.0', '0.2', '0.4', '0.6', '0.8', '1.0'], **TICKS)
lay['yaxis3'] = axis(dy(52, 367), [500, -25], showticklabels=False)
lay['xaxis4'] = axis(dx(126.5, 649.5), [-0.4364, 0.7596], showticklabels=False)
lay['yaxis4'] = axis(dy(529.5, 629), [-0.48, 1.5], tickvals=[0, 1],
                     ticktext=['LUSC-T2', 'LUSC-T1'], tickangle=-45,
                     tickfont=dict(family=FONT, size=22, color='#222'),
                     **dict(TICKS, ticklabelstandoff=4))
lay['xaxis5'] = axis(dx(126.5, 649.5), [-0.4364, 0.7596], tickvals=[-0.25, 0, 0.25, 0.5, 0.75],
                     ticktext=['-0.25', '0.00', '0.25', '0.50', '0.75'], **TICKS)
lay['yaxis5'] = axis(dy(636, 1143.5), [-0.589, 0.591], tickvals=[-0.3, 0, 0.3],
                     ticktext=['-0.3', '0.0', '0.3'], ticklabelstandoff=4, **GRID)
lay['xaxis6'] = axis(dx(659, 759), [-0.6, 1.61], tickvals=[0, 1], ticktext=['LUSC-T1', 'LUSC-T2'],
                     tickangle=-45, tickfont=dict(family=FONT, size=22, color='#222'),
                     **dict(TICKS, ticklabelstandoff=4))
lay['yaxis6'] = axis(dy(636, 1143.5), [-0.589, 0.591], showticklabels=False)
lay['xaxis7'] = axis(dx(871.5, 1086), [-0.59, 1.596], tickvals=[0, 1],
                     ticktext=['LUSC-T1', 'LUSC-T2'], tickangle=-45,
                     tickfont=dict(family=FONT, size=23, color='#222'), **TICKS)
lay['yaxis7'] = axis(dy(530.5, 1122), [314.5, 1075], tickvals=[500, 700, 900], tickfont=TFW,
                     ticklabelstandoff=4, **GRID)
lay['xaxis8'] = axis(dx(1196, 1977), [-4.3, 4.3], tickvals=list(range(-4, 5)),
                     ticktext=['\u22124', '\u22123', '\u22122', '\u22121', '0', '1', '2', '3', '4'],
                     tickfont=dict(family=FONT, size=25, color='#222'))
lay['yaxis8'] = axis(dy(543.4, 1227.6), [29.6, -0.6], showticklabels=False)
lay['xaxis9'] = axis(dx(125.5, 761), [-146, 3360], tickvals=[0, 600, 1200, 1800, 2400, 3000],
                     **TICKS)
lay['yaxis9'] = axis(dy(1344, 1998), [-5.0, 104.8], tickvals=[0, 25, 50, 75, 100],
                     ticklabelstandoff=4, **GRID)
lay['xaxis10'] = axis(dx(871.5, 1086), [-0.643, 1.74], tickvals=[0, 1],
                      ticktext=['LUSC-T1', 'LUSC-T2'], tickangle=-45,
                      tickfont=dict(family=FONT, size=23, color='#222'), **TICKS)
lay['yaxis10'] = axis(dy(1344, 1997), [-2899, 2733], tickvals=[-2000, -1000, 0, 1000, 2000],
                      ticktext=['-2000', '-1000', '0', '1000', '2000'], tickfont=TFW,
                      ticklabelstandoff=4, **GRID)
lay['xaxis11'] = axis(dx(1370, 1557), [0, 1], showticklabels=False)
lay['yaxis11'] = axis(dy(1480, 1969), [9, 0], showticklabels=False)
for n in range(1, 12):
    s = '' if n == 1 else str(n)
    lay['xaxis' + s]['anchor'] = 'y' + s
    lay['yaxis' + s]['anchor'] = 'x' + s

LF = dict(family=FONT, color='#111')
fig.update_layout(
    width=W, height=H, autosize=False, margin=dict(l=0, r=0, t=0, b=0),
    paper_bgcolor=BG, plot_bgcolor='rgba(0,0,0,0)', boxmode='overlay', bargap=0,
    font=dict(family=FONT, color='#111'), shapes=shapes, annotations=ann,
    legend=dict(x=146 / W, y=1 - 1060 / H, xanchor='left', yanchor='top',
                bgcolor='rgba(0,0,0,0)', font=dict(size=19, **LF)),
    legend2=dict(x=490 / W, y=1 - 1368 / H, xanchor='left', yanchor='top', itemwidth=60,
                 tracegroupgap=16, bgcolor='rgba(0,0,0,0)', font=dict(size=22, **LF)),
    legend3=dict(x=1180 / W, y=1 - 1798 / H, xanchor='left', yanchor='top',
                 tracegroupgap=2, bgcolor='rgba(0,0,0,0)', font=dict(size=28, **LF)),
    legend4=dict(x=1177 / W, y=1 - 1978 / H, xanchor='left', yanchor='top',
                 tracegroupgap=6, bgcolor='rgba(0,0,0,0)', font=dict(size=28, **LF)),
    **lay)

fig.write_html("out.html")
